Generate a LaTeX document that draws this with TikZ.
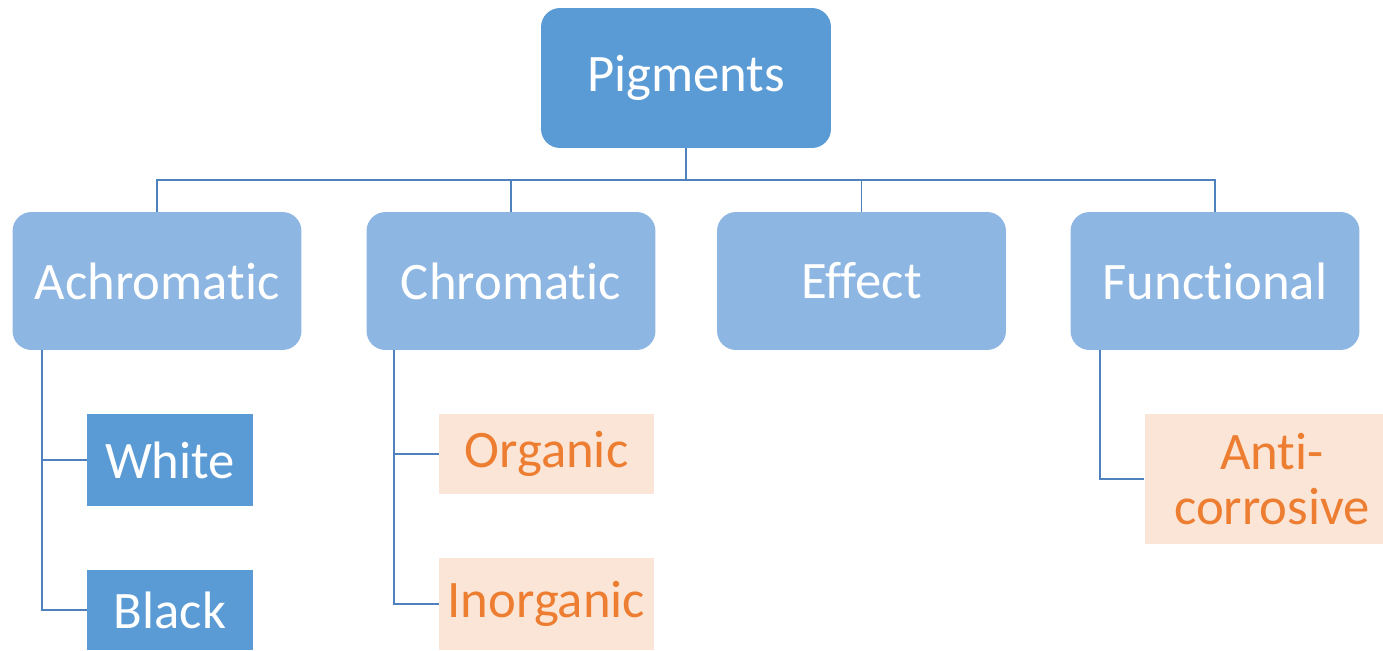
\documentclass[tikz,border=0pt]{standalone}
\usepackage{fontspec}
\setmainfont[Ligatures=NoCommon]{Carlito}
\definecolor{boxblue}{HTML}{5B9BD5}
\definecolor{lightblue}{HTML}{8EB6E2}
\definecolor{linkblue}{HTML}{4F81BD}
\definecolor{peach}{HTML}{FBE5D6}
\definecolor{orangetext}{HTML}{ED7D31}
\begin{document}
\begin{tikzpicture}[x=0.02cm,y=-0.02cm,
  every node/.style={inner sep=0pt,font=\fontsize{30}{31}\selectfont,align=center},
  topbox/.style={fill=boxblue,text=white,rounded corners=0.38cm,minimum width=5.8cm,minimum height=2.8cm},
  catbox/.style={fill=lightblue,text=white,rounded corners=0.38cm,minimum width=5.78cm,minimum height=2.76cm},
  subbox/.style={fill=boxblue,text=white,minimum width=3.32cm},
  leafbox/.style={fill=peach,text=orangetext},
  link/.style={draw=linkblue,line width=1.1pt}]
\useasboundingbox (0,0) rectangle (1383,650);
% top level
\node[topbox] (pig) at (686,78) {Pigments};
% categories
\node[catbox] (achro) at (157,281) {Achromatic};
\node[catbox] (chrom) at (511,281) {Chromatic};
\node[catbox] (eff) at (861.5,281) {Effect};
\node[catbox] (func) at (1215,281) {Functional};
% sub categories
\node[subbox,minimum height=1.84cm] (white) at (170,460) {White};
\node[subbox,minimum height=1.6cm] (black) at (170,610) {Black};
\node[leafbox,minimum width=4.3cm,minimum height=1.6cm] (org) at (546.5,454) {Organic};
\node[leafbox,minimum width=4.3cm,minimum height=1.84cm] (inorg) at (546.5,604) {Inorganic};
\node[leafbox,minimum width=5.1cm,minimum height=2.6cm] (anti) at (1272,479) {Anti-\\corrosive};
% connectors
\coordinate (bus) at (0,180);
\foreach \c in {achro,chrom,eff,func}
  \draw[link] (pig.south) -- (pig.south |- bus) -| (\c.north);
\coordinate (achroline) at (42,350);
\coordinate (chromline) at (394,350);
\coordinate (funcline) at (1100,350);
\draw[link] (achroline) |- (white.west);
\draw[link] (achroline) |- (black.west);
\draw[link] (chromline) |- (org.west);
\draw[link] (chromline) |- (inorg.west);
\draw[link] (funcline) |- (anti.west);
\end{tikzpicture}
\end{document}
